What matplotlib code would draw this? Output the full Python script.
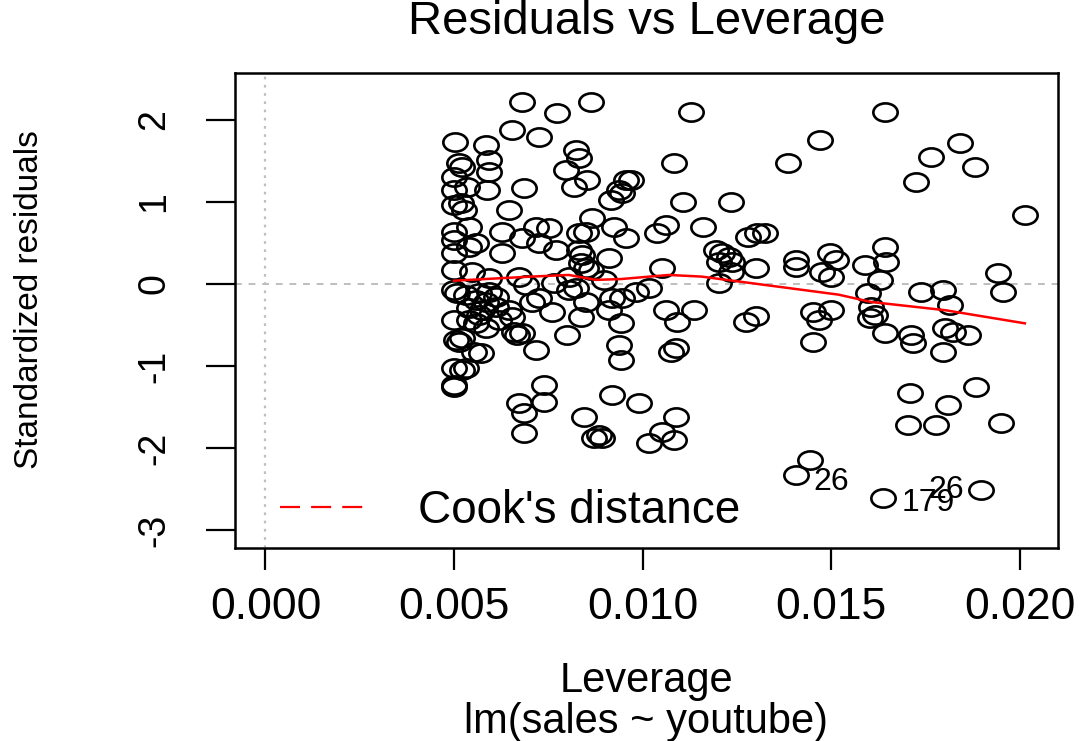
import numpy as np
import matplotlib.pyplot as plt
from matplotlib.path import Path
from matplotlib.transforms import Affine2D
from matplotlib.lines import Line2D
from matplotlib.ticker import FormatStrFormatter

plt.rcParams['font.family'] = ['Liberation Sans', 'DejaVu Sans']
plt.rcParams['axes.unicode_minus'] = False

# leverage (x 1000) and standardized residuals
leverage_x1000 = [
    5.03, 5.13, 5.21, 5.00, 5.34, 5.00, 5.00, 5.19, 5.26, 5.40,
    5.00, 5.00, 5.58, 5.40, 5.00, 5.00, 5.48, 5.85, 5.93, 5.93,
    5.87, 6.80, 7.72, 8.62, 6.53, 7.25, 8.23, 8.31, 7.96, 8.52,
    6.85, 8.17, 9.55, 9.37, 9.15, 6.46, 8.65, 6.27, 7.17, 7.51,
    8.31, 8.49, 9.23, 9.55, 6.80, 7.25, 7.70, 8.31, 8.39, 9.10,
    6.27, 8.36, 8.49, 5.93, 6.72, 8.04, 8.97, 8.62, 5.00, 5.08,
    5.32, 5.66, 5.93, 6.11, 5.58, 5.85, 6.90, 7.25, 7.06, 8.04,
    8.23, 8.49, 9.18, 5.40, 5.74, 6.11, 6.46, 7.59, 8.36, 9.10,
    5.00, 5.40, 5.66, 6.19, 6.53, 9.42, 5.58, 5.85, 6.67, 6.80,
    6.59, 5.05, 5.13, 5.21, 7.99, 9.37, 5.53, 5.71, 7.17, 9.42,
    5.00, 5.21, 5.32, 5.00, 5.00, 7.38, 9.18, 6.72, 7.38, 6.85,
    8.44, 6.85, 8.84, 8.92, 8.70, 9.68, 9.44, 11.08, 11.27, 14.71,
    10.82, 13.86, 12.33, 10.63, 10.37, 11.61, 12.80, 13.02, 13.25, 11.93,
    12.09, 12.28, 12.01, 12.36, 10.50, 12.33, 12.99, 14.05, 14.05, 14.97,
    15.11, 14.74, 15.00, 12.01, 9.81, 10.16, 9.44, 10.61, 11.35, 10.90,
    12.73, 12.99, 14.52, 14.66, 15.00, 10.74, 10.87, 14.52, 9.89, 10.87,
    10.50, 10.16, 10.82, 14.44, 14.05, 16.43, 17.65, 18.41, 18.81, 17.25,
    20.13, 15.90, 16.43, 16.46, 16.30, 15.98, 17.38, 17.96, 19.42, 19.55,
    18.15, 16.06, 16.16, 16.03, 16.43, 17.12, 17.17, 18.02, 18.23, 18.62,
    17.96, 17.09, 18.10, 18.84, 17.04, 17.78, 19.50, 16.38, 18.97, 7.65,
]
std_resid = [
    1.73, 1.48, 1.43, 1.30, 1.18, 1.15, 0.96, 0.99, 0.90, 0.70,
    0.63, 0.54, 0.50, 0.45, 0.38, 0.17, 0.15, 1.70, 1.51, 1.37,
    1.15, 2.22, 2.09, 2.22, 1.88, 1.79, 1.63, 1.54, 1.39, 1.27,
    1.17, 1.18, 1.27, 1.15, 1.02, 0.90, 0.80, 0.63, 0.70, 0.68,
    0.62, 0.63, 0.70, 0.56, 0.56, 0.50, 0.41, 0.41, 0.35, 0.32,
    0.38, 0.26, 0.20, 0.07, 0.09, 0.09, 0.05, 0.17, -0.07, -0.11,
    -0.13, -0.11, -0.10, -0.16, -0.20, -0.22, -0.01, -0.17, -0.22, -0.07,
    -0.05, -0.22, -0.17, -0.29, -0.32, -0.28, -0.32, -0.34, -0.40, -0.32,
    -0.44, -0.44, -0.38, -0.44, -0.40, -0.48, -0.48, -0.54, -0.62, -0.60,
    -0.59, -0.68, -0.71, -0.66, -0.62, -0.74, -0.83, -0.84, -0.80, -0.93,
    -1.02, -1.05, -1.02, -1.23, -1.26, -1.23, -1.35, -1.45, -1.44, -1.57,
    -1.62, -1.82, -1.84, -1.88, -1.88, 1.27, 1.11, 1.00, 2.10, 1.76,
    1.48, 1.48, 1.00, 0.72, 0.62, 0.70, 0.57, 0.62, 0.62, 0.41,
    0.38, 0.33, 0.27, 0.27, 0.20, 0.15, 0.20, 0.29, 0.21, 0.38,
    0.29, 0.15, 0.09, 0.01, -0.10, -0.05, -0.17, -0.32, -0.32, -0.46,
    -0.46, -0.39, -0.34, -0.44, -0.32, -0.83, -0.78, -0.71, -1.45, -1.62,
    -1.80, -1.94, -1.90, -2.15, -2.33, 2.10, 1.55, 1.72, 1.43, 1.24,
    0.84, 0.23, 0.45, 0.27, 0.05, -0.11, -0.10, -0.07, 0.13, -0.10,
    -0.26, -0.28, -0.38, -0.41, -0.60, -0.62, -0.72, -0.54, -0.59, -0.62,
    -0.83, -1.33, -1.48, -1.26, -1.72, -1.72, -1.70, -2.61, -2.51, 0.01,
]

# red smoother
smooth_lev_x1000 = [5.00, 7.04, 8.04, 8.76, 9.42, 10.69, 11.56, 12.88, 14.20, 15.19, 16.06, 18.02, 20.13]
smooth_res = [0.04, 0.09, 0.11, 0.05, 0.06, 0.11, 0.09, 0.01, -0.07, -0.13, -0.22, -0.32, -0.48]

# labelled observations (text, leverage x1000, residual)
id_labels = ["26", "179", "26"]
id_lev_x1000 = [15.00, 17.57, 18.04]
id_res = [-2.41, -2.67, -2.51]

lev = np.array(leverage_x1000) / 1000
res = np.array(std_resid)

fig = plt.figure(figsize=(10.84, 7.41), dpi=100)
ax = fig.add_axes([235 / 1084, 1 - 548 / 741, (1058 - 235) / 1084, (548 - 73) / 741])

# the source image is stretched sideways, so circles are ovals
oval = Path.unit_circle().transformed(Affine2D().scale(1, 0.75))

ax.axvline(0, color='#bebebe', lw=1.6, ls=(0, (1.2, 2.5)), zorder=1)
ax.axhline(0, color='#bebebe', lw=1.4, ls=(0, (3.5, 3.5)), zorder=1)

ax.plot(lev, res, ls='none', marker=oval, markersize=17.5,
        markerfacecolor='none', markeredgecolor='black', markeredgewidth=1.9, zorder=2)
ax.plot(np.array(smooth_lev_x1000) / 1000, smooth_res, color='red', lw=1.8, zorder=3)

for t, x, y in zip(id_labels, id_lev_x1000, id_res):
    ax.text(x / 1000, y, t, fontsize=23, ha='center', va='center')

ax.set_xlim(-0.000808, 0.021008)
ax.set_ylim(-3.22, 2.573)
ax.set_xticks([0, 0.005, 0.010, 0.015, 0.020])
ax.xaxis.set_major_formatter(FormatStrFormatter('%.3f'))
ax.set_yticks([-3, -2, -1, 0, 1, 2])

ax.tick_params(axis='x', length=16, width=1.6, pad=12, labelsize=32)
ax.tick_params(axis='y', length=21, width=1.6, pad=24, labelsize=27, labelrotation=90)
for lab in ax.get_yticklabels():
    lab.set_va('center')

for sp in ax.spines.values():
    sp.set_linewidth(1.8)

leg = ax.legend(handles=[Line2D([], [], color='red', lw=1.6, ls=(0, (9, 5)))],
                labels=["Cook's distance"], loc='center left',
                bbox_to_anchor=(0.055, 0.078), frameon=False, fontsize=33,
                handlelength=1.8, handletextpad=1.2, borderpad=0, borderaxespad=0)

cx = (235 + 1058) / 2 / 1084
fig.text(cx, 1 - 22 / 741, "Residuals vs Leverage", ha='center', va='center', fontsize=34)
fig.text(cx, 1 - 681 / 741, "Leverage", ha='center', va='center', fontsize=30)
fig.text(cx, 1 - 722 / 741, "lm(sales ~ youtube)", ha='center', va='center', fontsize=30)
fig.text(30 / 1084, 1 - 300 / 741, "Standardized residuals", ha='center', va='center',
         rotation=90, fontsize=24)

fig.savefig("out.png", dpi=100)
